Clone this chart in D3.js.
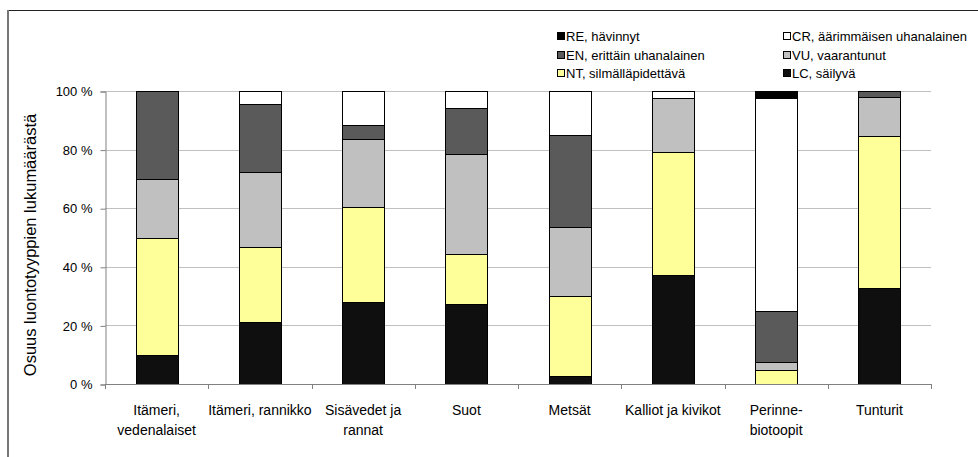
<!DOCTYPE html>
<html>
<head>
<meta charset="utf-8">
<script src="https://cdn.jsdelivr.net/npm/d3@7"></script>
<style>
  html, body { margin: 0; padding: 0; background: #fff; }
  svg { display: block; font-family: "Liberation Sans", Arial, sans-serif; }
</style>
</head>
<body>
<svg id="chart" width="978" height="457"></svg>
<script>
// ---- Data (percent of habitat types per threat category) ----
const categories = ["Itämeri,\nvedenalaiset", "Itämeri, rannikko", "Sisävedet ja\nrannat", "Suot", "Metsät", "Kalliot ja kivikot", "Perinne-\nbiotoopit", "Tunturit"];
const LC = [10, 21.3, 28.1, 27.2, 2.8, 37.3, 0, 32.8];
const NT = [40, 25.5, 32.3, 17.1, 27.3, 41.8, 4.9, 51.9];
const VU = [20, 25.5, 23.3, 34.3, 23.4, 18.6, 2.5, 13.1];
const EN = [30, 23.4, 4.8, 15.6, 31.5, 0, 17.5, 2.2];
const CR = [0, 4.3, 11.5, 5.8, 15.0, 2.3, 72.6, 0];
const RE = [0, 0, 0, 0, 0, 0, 2.5, 0];
const seriesNames = ["LC, säilyvä", "NT, silmälläpidettävä", "VU, vaarantunut", "EN, erittäin uhanalainen", "CR, äärimmäisen uhanalainen", "RE, hävinnyt"];
const seriesValues = [LC, NT, VU, EN, CR, RE];
const seriesColors = ["#0f0f0f", "#ffff99", "#c0c0c0", "#5a5a5a", "#ffffff", "#000000"];
const legendOrder = ["RE, hävinnyt", "CR, äärimmäisen uhanalainen", "EN, erittäin uhanalainen", "VU, vaarantunut", "NT, silmälläpidettävä", "LC, säilyvä"];
const yTicks = [0, 20, 40, 60, 80, 100];
const yTitle = "Osuus luontotyyppien lukumäärästä";

// ---- Build table ----
const keys = seriesNames;
const rows = categories.map((c, i) => {
  const r = { cat: c };
  keys.forEach((k, j) => r[k] = seriesValues[j][i]);
  return r;
});
const stacked = d3.stack().keys(keys)(rows);
const color = d3.scaleOrdinal().domain(keys).range(seriesColors);

const svg = d3.select("#chart");
const W = 978, H = 457;
const m = { left: 105, right: W - 931, top: 91, bottom: H - 384 };

// outer frame
svg.append("line").attr("x1", 8).attr("x2", W).attr("y1", 10.5).attr("y2", 10.5)
  .attr("stroke", "#222").attr("stroke-width", 1);
svg.append("line").attr("x1", 8).attr("x2", 8).attr("y1", 10).attr("y2", H)
  .attr("stroke", "#777").attr("stroke-width", 2);

const x = d3.scaleBand().domain(categories).range([m.left, W - m.right])
  .paddingInner(0.593).paddingOuter(0.2965);
const y = d3.scaleLinear().domain([0, 100]).range([H - m.bottom, m.top]);

// gridlines
svg.append("g").selectAll("line").data(yTicks.filter(t => t > 0)).join("line")
  .attr("x1", m.left).attr("x2", W - m.right)
  .attr("y1", d => Math.round(y(d)) + 0.5).attr("y2", d => Math.round(y(d)) + 0.5)
  .attr("stroke", "#c0c0c0").attr("stroke-width", 1);

// bars
svg.append("g").selectAll("g").data(stacked).join("g")
  .attr("fill", d => color(d.key))
  .selectAll("rect").data(d => d.filter(s => s[1] - s[0] > 0)).join("rect")
  .attr("x", d => Math.round(x(d.data.cat)) + 0.5)
  .attr("width", Math.round(x.bandwidth()))
  .attr("y", d => Math.round(y(d[1])) + 0.5)
  .attr("height", d => Math.round(y(d[0])) - Math.round(y(d[1])))
  .attr("stroke", "#000").attr("stroke-width", 1);

// y axis
const yAxis = d3.axisLeft(y).tickValues(yTicks).tickSize(5).tickPadding(8)
  .tickFormat(d => d + " %");
const gy = svg.append("g").attr("transform", `translate(${m.left + 0.5},0.5)`).call(yAxis);
gy.select(".domain").attr("stroke", "#808080");
gy.selectAll(".tick line").attr("stroke", "#808080");
gy.selectAll(".tick text").attr("font-size", 13).attr("fill", "#000")
  .attr("font-family", "Liberation Sans, Arial, sans-serif");

// x axis: boundaries ticks
const xAxisG = svg.append("g");
xAxisG.append("line").attr("x1", m.left).attr("x2", W - m.right)
  .attr("y1", y(0) + 0.5).attr("y2", y(0) + 0.5).attr("stroke", "#808080");
const bounds = categories.map(c => x(c) - x.step() * x.paddingInner() / 2);
bounds.push(W - m.right);
xAxisG.selectAll("line.tk").data(bounds).join("line").attr("class", "tk")
  .attr("x1", d => Math.round(d) + 0.5).attr("x2", d => Math.round(d) + 0.5)
  .attr("y1", y(0)).attr("y2", y(0) + 5).attr("stroke", "#808080");

// x labels
const xl = svg.append("g").selectAll("text").data(categories).join("text")
  .attr("x", d => x(d) + x.bandwidth() / 2)
  .attr("y", 415)
  .attr("text-anchor", "middle").attr("font-size", 14).attr("fill", "#000");
xl.each(function(d) {
  const lines = d.split("\n");
  d3.select(this).selectAll("tspan").data(lines).join("tspan")
    .attr("x", x(d) + x.bandwidth() / 2)
    .attr("dy", (l, i) => i === 0 ? 0 : 20)
    .text(l => l);
});

// y title
svg.append("text")
  .attr("transform", `translate(36,245) rotate(-90)`)
  .attr("text-anchor", "middle").attr("font-size", 16.5).attr("fill", "#000")
  .text(yTitle);

// legend
const legCols = [557, 783];
const legRows = [36, 55, 73];
const lg = svg.append("g").selectAll("g").data(legendOrder).join("g")
  .attr("transform", (d, i) => `translate(${legCols[i % 2]},${legRows[Math.floor(i / 2)]})`);
lg.append("rect").attr("x", 0.5).attr("y", -3.5).attr("width", 7).attr("height", 7)
  .attr("fill", d => color(d)).attr("stroke", "#000").attr("stroke-width", 1);
lg.append("text").attr("x", 9).attr("y", 0).attr("dy", "0.35em")
  .attr("font-size", 13).attr("fill", "#000").text(d => d);
</script>
</body>
</html>
